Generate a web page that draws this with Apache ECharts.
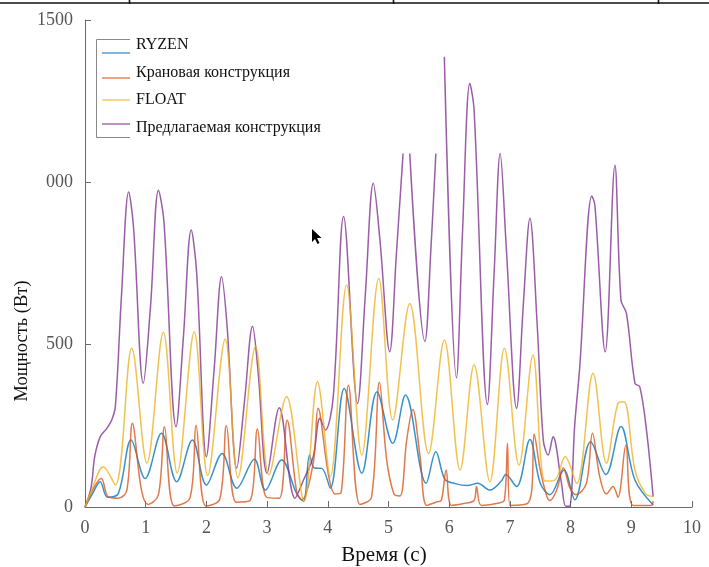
<!DOCTYPE html>
<html>
<head>
<meta charset="utf-8">
<script src="https://cdn.jsdelivr.net/npm/echarts@6/dist/echarts.min.js"></script>
<style>
  html, body { margin: 0; padding: 0; background: #fff; }
  #chart { width: 709px; height: 567px; }
</style>
</head>
<body>
<div id="chart"></div>
<script>
// Power draw over time for four configurations: [time (s), power (W)]
const seriesNames = ['RYZEN', 'Крановая конструкция', 'FLOAT', 'Предлагаемая конструкция'];
const seriesColors = ['#0072BD', '#D95319', '#EDB120', '#7E2F8E'];

const ryzen = [
  [0, 0], [0.12, 40], [0.25, 78], [0.37, 30], [0.55, 42], [0.76, 206], [0.99, 88], [1.26, 227],
  [1.51, 78], [1.77, 206], [2.00, 68], [2.26, 165], [2.50, 58], [2.79, 147], [2.97, 52],
  [3.24, 145], [3.49, 40], [3.60, 18], [3.70, 160], [3.78, 120], [3.90, 119], [4.04, 58],
  [4.27, 365], [4.56, 104], [4.81, 355], [5.07, 196], [5.28, 345], [5.62, 73], [5.78, 170],
  [5.93, 85], [6.10, 72], [6.30, 66], [6.47, 73], [6.67, 52], [6.86, 80], [6.93, 100],
  [7.11, 63], [7.33, 208], [7.50, 73], [7.66, 38], [7.89, 114], [8.07, 22], [8.33, 201],
  [8.58, 100], [8.83, 248], [9.06, 83], [9.36, 6]
];

const crane = [
  [0, 0], [0.27, 88], [0.38, 32], [0.55, 27], [0.69, 52], [0.78, 258], [0.93, 52], [1.04, 8],
  [1.21, 38], [1.31, 247], [1.47, 3], [1.73, 28], [1.83, 252], [1.99, 3], [2.22, 24],
  [2.33, 250], [2.49, 15], [2.72, 20], [2.84, 240], [2.99, 30], [3.20, 27], [3.33, 267],
  [3.49, 45], [3.57, 22], [3.76, 135], [3.84, 304], [4.01, 100], [4.12, 40], [4.22, 45],
  [4.34, 375], [4.53, 8], [4.72, 30], [4.85, 384], [4.97, 145], [5.09, 40], [5.19, 34],
  [5.30, 206], [5.40, 300], [5.52, 155], [5.63, 5], [5.80, 16], [5.87, 20], [5.95, 114],
  [6.04, 5], [6.28, 12], [6.41, 20], [6.45, 63], [6.53, 5], [6.82, 12], [6.91, 22],
  [6.96, 196], [7.00, 5], [7.28, 10], [7.36, 52], [7.40, 225], [7.50, 114], [7.61, 32],
  [7.66, 20], [7.77, 52], [7.88, 120], [7.99, 58], [8.09, 38], [8.26, 73], [8.36, 227],
  [8.48, 93], [8.59, 40], [8.70, 63], [8.78, 30], [8.91, 190], [9.03, 5], [9.33, 5], [9.36, 18]
];

const floatCfg = [
  [0, 0], [0.11, 52], [0.30, 124], [0.50, 68], [0.77, 489], [1.02, 135], [1.29, 538],
  [1.52, 105], [1.80, 540], [2.02, 97], [2.31, 517], [2.52, 90], [2.81, 494], [3.03, 99],
  [3.32, 340], [3.61, 18], [3.83, 386], [4.04, 93], [4.31, 684], [4.56, 160], [4.84, 704],
  [5.07, 268], [5.35, 627], [5.66, 165], [5.92, 514], [6.18, 114], [6.41, 437], [6.67, 78],
  [6.91, 489], [7.15, 129], [7.38, 468], [7.58, 80], [7.74, 83], [7.91, 155], [8.10, 73],
  [8.37, 412], [8.59, 135], [8.78, 319], [8.88, 324], [9.06, 114], [9.23, 42], [9.36, 32]
];

// '-' marks samples that are missing from the recording
const proposed = [
  [0, 0], [0.10, 60], [0.16, 155], [0.25, 216], [0.36, 242], [0.44, 268], [0.50, 309],
  [0.60, 648], [0.72, 970], [0.80, 860], [0.96, 381], [1.08, 620], [1.21, 976], [1.30, 880],
  [1.50, 247], [1.62, 520], [1.75, 853], [1.84, 720], [2.00, 155], [2.13, 430], [2.25, 709],
  [2.34, 560], [2.50, 120], [2.63, 330], [2.76, 557], [2.85, 420], [3.00, 104], [3.20, 306],
  [3.46, 27], [3.60, 83], [3.76, 155], [3.87, 273], [3.96, 237], [4.09, 340], [4.26, 895],
  [4.49, 319], [4.62, 660], [4.75, 997], [4.86, 820], [5.02, 478], [5.13, 780], [5.24, 1089],
  [5.30, '-'], [5.35, 1089], [5.60, 510], [5.70, 800], [5.78, 1089], [5.85, '-'],
  [5.92, 1387], [6.12, 398], [6.22, 850], [6.34, 1305], [6.41, 1223], [6.63, 316],
  [6.74, 720], [6.84, 1089], [6.94, 800], [7.11, 304], [7.22, 620], [7.33, 889], [7.45, 560],
  [7.55, 206], [7.63, 160], [7.71, 216], [7.85, 73], [7.92, 2], [7.98, 2], [8.07, 258],
  [8.15, 430], [8.35, 958], [8.40, 930], [8.57, 478], [8.73, 1053], [8.83, 637], [8.92, 596],
  [9.06, 381], [9.14, 370], [9.25, 237], [9.36, 32]
];

const xTicks = ['0', '1', '2', '3', '4', '5', '6', '7', '8', '9', '10'];
const yTickLabels = { 0: '0', 500: '500', 1000: '000', 1500: '1500' };

const serif = "'Liberation Serif', 'Times New Roman', serif";
const axisGrey = '#6a6a6a';

const chart = echarts.init(document.getElementById('chart'), null, { renderer: 'canvas' });

const dataSets = [ryzen, crane, floatCfg, proposed];

// Legend box: lines + labels, framed on its left side
const legendLineY = [53, 78, 100, 124];
const legendTextY = [45, 73, 100, 128];
const legendGraphics = [
  {
    type: 'polyline', silent: true,
    shape: { points: [[130, 39.5], [96.5, 39.5], [96.5, 137.5], [130, 137.5]] },
    style: { stroke: '#8a8a8a', lineWidth: 1, fill: null }
  }
];
seriesNames.forEach((name, i) => {
  legendGraphics.push({
    type: 'line', silent: true,
    shape: { x1: 102, y1: legendLineY[i], x2: 130, y2: legendLineY[i] },
    style: { stroke: seriesColors[i], lineWidth: 1.3, opacity: 0.8 }
  });
  legendGraphics.push({
    type: 'text', silent: true, x: 136, y: legendTextY[i],
    style: { text: name, font: '16px ' + serif, fill: '#111', verticalAlign: 'middle' }
  });
});

const option = {
  animation: false,
  backgroundColor: '#ffffff',
  grid: { left: 85, right: 17, top: 20, bottom: 60, containLabel: false },
  xAxis: {
    type: 'value', min: 0, max: 10, interval: 1,
    axisLine: { show: true, lineStyle: { color: axisGrey, width: 1 } },
    axisTick: { show: true, inside: true, length: 6, lineStyle: { color: axisGrey } },
    axisLabel: {
      fontFamily: serif, fontSize: 18, color: '#555', margin: 12,
      formatter: v => xTicks[Math.round(v)]
    },
    splitLine: { show: false }
  },
  yAxis: {
    type: 'value', min: 0, max: 1500, interval: 500,
    axisLine: { show: true, lineStyle: { color: axisGrey, width: 1 } },
    axisTick: { show: true, inside: true, length: 6, lineStyle: { color: axisGrey } },
    axisLabel: {
      fontFamily: serif, fontSize: 18, color: '#555', margin: 12,
      formatter: v => yTickLabels[v]
    },
    splitLine: { show: false }
  },
  series: seriesNames.map((name, i) => ({
    name: name,
    type: 'line',
    data: dataSets[i],
    showSymbol: false,
    symbol: 'none',
    smooth: 0.35,
    connectNulls: false,
    lineStyle: { color: seriesColors[i], width: 1.5, opacity: 0.78 },
    itemStyle: { color: seriesColors[i] },
    z: 2 + (i === 3 ? 0 : i)
  })),
  graphic: [
    // document table rule running across the top edge
    { type: 'line', silent: true, shape: { x1: 0, y1: 3, x2: 709, y2: 3 }, style: { stroke: '#111', lineWidth: 1.6 } },
    { type: 'line', silent: true, shape: { x1: 129.5, y1: 0, x2: 129.5, y2: 4 }, style: { stroke: '#111', lineWidth: 1.6 } },
    { type: 'line', silent: true, shape: { x1: 393.5, y1: 0, x2: 393.5, y2: 4 }, style: { stroke: '#111', lineWidth: 1.6 } },
    { type: 'line', silent: true, shape: { x1: 658.5, y1: 0, x2: 658.5, y2: 4 }, style: { stroke: '#111', lineWidth: 1.6 } },
    // axis titles
    {
      type: 'text', silent: true, x: 22, y: 341, rotation: Math.PI / 2,
      style: { text: 'Мощность (Вт)', font: '18.5px ' + serif, fill: '#111', align: 'center', verticalAlign: 'middle' }
    },
    {
      type: 'text', silent: true, x: 384, y: 555,
      style: { text: 'Время (с)', font: '21px ' + serif, fill: '#111', align: 'center', verticalAlign: 'middle' }
    },
    // mouse pointer
    {
      type: 'polygon', silent: true, x: 312, y: 229,
      shape: { points: [[0, 0], [0, 13], [3, 10], [5.5, 15], [7.5, 14], [5, 9], [9.5, 9]] },
      style: { fill: '#000' }
    }
  ].concat(legendGraphics)
};

chart.setOption(option);
</script>
</body>
</html>
